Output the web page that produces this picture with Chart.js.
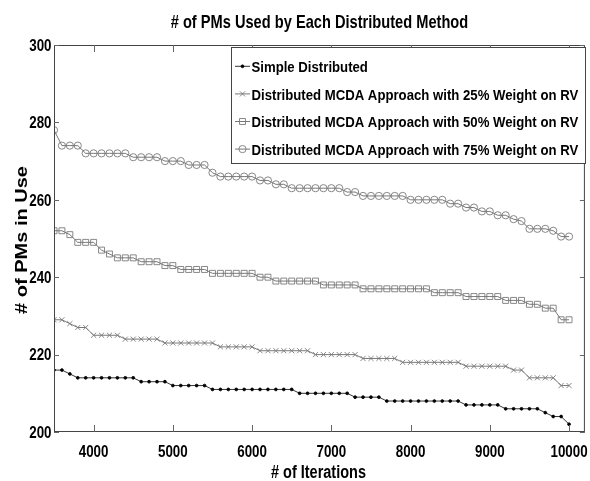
<!DOCTYPE html>
<html>
<head>
<meta charset="utf-8">
<script src="https://cdn.jsdelivr.net/npm/chart.js@4.4.1/dist/chart.umd.min.js"></script>
<style>
  html, body { margin: 0; padding: 0; background: #fff; }
  #wrap { width: 590px; height: 481px; }
</style>
</head>
<body>
<div id="wrap"><canvas id="chart" width="590" height="481"></canvas></div>
<script>
const chartTitle = '# of PMs Used by Each Distributed Method';
const xTitle = '# of Iterations';
const yTitle = '# of PMs in Use';

const xTicks = [4000, 5000, 6000, 7000, 8000, 9000, 10000];
const yTicks = [200, 220, 240, 260, 280, 300];

const iterations = [
  3500, 3600, 3700, 3800, 3900, 4000, 4100, 4200, 4300, 4400,
  4500, 4600, 4700, 4800, 4900, 5000, 5100, 5200, 5300, 5400,
  5500, 5600, 5700, 5800, 5900, 6000, 6100, 6200, 6300, 6400,
  6500, 6600, 6700, 6800, 6900, 7000, 7100, 7200, 7300, 7400,
  7500, 7600, 7700, 7800, 7900, 8000, 8100, 8200, 8300, 8400,
  8500, 8600, 8700, 8800, 8900, 9000, 9100, 9200, 9300, 9400,
  9500, 9600, 9700, 9800, 9900, 10000,
];

const seriesLabels = [
  'Simple Distributed',
  'Distributed MCDA Approach with 25% Weight on RV',
  'Distributed MCDA Approach with 50% Weight on RV',
  'Distributed MCDA Approach with 75% Weight on RV',
];

const simpleDistributed = [
  216, 216, 215, 214, 214, 214, 214, 214, 214, 214,
  214, 213, 213, 213, 213, 212, 212, 212, 212, 212,
  211, 211, 211, 211, 211, 211, 211, 211, 211, 211,
  211, 210, 210, 210, 210, 210, 210, 210, 209, 209,
  209, 209, 208, 208, 208, 208, 208, 208, 208, 208,
  208, 208, 207, 207, 207, 207, 207, 206, 206, 206,
  206, 206, 205, 204, 204, 202,
];

const weight25 = [
  229, 229, 228, 227, 227, 225, 225, 225, 225, 224,
  224, 224, 224, 224, 223, 223, 223, 223, 223, 223,
  223, 222, 222, 222, 222, 222, 221, 221, 221, 221,
  221, 221, 221, 220, 220, 220, 220, 220, 220, 219,
  219, 219, 219, 219, 218, 218, 218, 218, 218, 218,
  218, 218, 217, 217, 217, 217, 217, 217, 216, 216,
  214, 214, 214, 214, 212, 212,
];

const weight50 = [
  252, 252, 251, 249, 249, 249, 247, 246, 245, 245,
  245, 244, 244, 244, 243, 243, 242, 242, 242, 242,
  241, 241, 241, 241, 241, 241, 240, 240, 239, 239,
  239, 239, 239, 239, 238, 238, 238, 238, 238, 237,
  237, 237, 237, 237, 237, 237, 237, 237, 236, 236,
  236, 236, 235, 235, 235, 235, 235, 234, 234, 234,
  233, 233, 232, 232, 229, 229,
];

const weight75 = [
  278, 274, 274, 274, 272, 272, 272, 272, 272, 272,
  271, 271, 271, 271, 270, 270, 270, 269, 269, 269,
  267, 266, 266, 266, 266, 266, 265, 265, 264, 264,
  263, 263, 263, 263, 263, 263, 263, 262, 262, 261,
  261, 261, 261, 261, 261, 260, 260, 260, 260, 260,
  259, 259, 258, 258, 257, 257, 256, 256, 255, 254.5,
  252.5, 252.5, 252.5, 252, 250.5, 250.5,
];

// the reference text is a squeezed Helvetica bold, so text is drawn
// with Liberation Sans and a horizontal scale
const FONT = '"Liberation Sans", Arial, sans-serif';

function toPoints(values) {
  return iterations.map((it, i) => ({ x: it, y: values[i] }));
}

function squeezedText(ctx, text, x, y, size, sx, align) {
  ctx.save();
  ctx.translate(x, y);
  ctx.scale(sx, 1);
  ctx.font = `bold ${size}px ${FONT}`;
  ctx.textAlign = align;
  ctx.textBaseline = 'alphabetic';
  ctx.fillStyle = '#000';
  ctx.fillText(text, 0, 0);
  ctx.restore();
}

function drawMarker(ctx, ds, x, y) {
  ctx.save();
  ctx.fillStyle = ds.pointBackgroundColor;
  ctx.strokeStyle = ds.pointBorderColor;
  ctx.lineWidth = ds.pointBorderWidth;
  Chart.helpers.drawPoint(ctx, {
    pointStyle: ds.pointStyle,
    radius: ds.pointRadius,
    rotation: 0,
    borderWidth: ds.pointBorderWidth,
  }, x, y);
  ctx.restore();
}

// MATLAB-like frame: box, inward ticks, labels, title and boxed legend
const matlabLook = {
  id: 'matlabLook',
  afterDraw(chart) {
    const { ctx, chartArea: a, scales: { x, y } } = chart;
    ctx.save();

    ctx.strokeStyle = '#444';
    ctx.lineWidth = 1;
    ctx.strokeRect(a.left + 0.5, a.top + 0.5, a.right - a.left - 1, a.bottom - a.top - 1);

    ctx.strokeStyle = '#666';
    ctx.beginPath();
    xTicks.forEach((v) => {
      const px = Math.round(x.getPixelForValue(v)) + 0.5;
      ctx.moveTo(px, a.bottom);
      ctx.lineTo(px, a.bottom - 7);
      ctx.moveTo(px, a.top);
      ctx.lineTo(px, a.top + 7);
    });
    yTicks.forEach((v) => {
      const py = Math.round(y.getPixelForValue(v)) + 0.5;
      ctx.moveTo(a.left, py);
      ctx.lineTo(a.left + 5, py);
      ctx.moveTo(a.right, py);
      ctx.lineTo(a.right - 5, py);
    });
    ctx.stroke();

    // tick labels
    xTicks.forEach((v) => {
      squeezedText(ctx, String(v), x.getPixelForValue(v), a.bottom + 25, 16.3, 0.82, 'center');
    });
    yTicks.forEach((v) => {
      squeezedText(ctx, String(v), a.left - 2.5, y.getPixelForValue(v) + 5.8, 16.3, 0.82, 'right');
    });

    // titles
    squeezedText(ctx, chartTitle, (a.left + a.right) / 2, 28, 19, 0.77, 'center');
    squeezedText(ctx, xTitle, (a.left + a.right) / 2 - 1, 478, 18, 0.805, 'center');

    ctx.save();
    ctx.translate(22, 240);
    ctx.rotate(-Math.PI / 2);
    ctx.scale(1, 0.82);
    ctx.font = `bold 20px ${FONT}`;
    ctx.textAlign = 'center';
    ctx.textBaseline = 'middle';
    ctx.fillStyle = '#000';
    ctx.fillText(yTitle, 0, 0);
    ctx.restore();

    // legend
    const box = { left: 231.5, top: 47.5, right: 585.5, bottom: 163.5 };
    ctx.fillStyle = '#fff';
    ctx.fillRect(box.left, box.top, box.right - box.left, box.bottom - box.top);
    ctx.strokeStyle = '#444';
    ctx.lineWidth = 1;
    ctx.strokeRect(box.left, box.top, box.right - box.left, box.bottom - box.top);

    chart.data.datasets.forEach((ds, i) => {
      const ry = 66.3 + i * 27.6;
      ctx.strokeStyle = ds.borderColor;
      ctx.lineWidth = ds.borderWidth;
      ctx.beginPath();
      ctx.moveTo(235, ry);
      ctx.lineTo(250, ry);
      ctx.stroke();
      drawMarker(ctx, ds, 242.5, ry);
      squeezedText(ctx, ds.label, 251.5, ry + 5.6, 15.5, 0.85, 'left');
    });

    ctx.restore();
  },
};

function makeDataset(label, values, style) {
  return Object.assign({
    label: label,
    data: toPoints(values),
    borderWidth: 0.8,
    pointBorderWidth: 0.9,
    pointHoverRadius: 0,
    tension: 0,
    fill: false,
  }, style);
}

new Chart(document.getElementById('chart'), {
  type: 'line',
  data: {
    datasets: [
      makeDataset(seriesLabels[0], simpleDistributed, {
        borderColor: '#000',
        pointStyle: 'circle',
        pointRadius: 1.4,
        pointBackgroundColor: '#000',
        pointBorderColor: '#000',
      }),
      makeDataset(seriesLabels[1], weight25, {
        borderColor: '#555',
        pointStyle: 'crossRot',
        pointRadius: 3.6,
        pointBackgroundColor: 'rgba(0,0,0,0)',
        pointBorderColor: '#7a7a7a',
      }),
      makeDataset(seriesLabels[2], weight50, {
        borderColor: '#555',
        pointStyle: 'rect',
        pointRadius: 4.2,
        pointBackgroundColor: 'rgba(0,0,0,0)',
        pointBorderColor: '#7a7a7a',
      }),
      makeDataset(seriesLabels[3], weight75, {
        borderColor: '#555',
        pointStyle: 'circle',
        pointRadius: 3.6,
        pointBackgroundColor: 'rgba(0,0,0,0)',
        pointBorderColor: '#7a7a7a',
      }),
    ],
  },
  options: {
    responsive: false,
    animation: false,
    devicePixelRatio: 1,
    layout: {
      padding: { top: 45, right: 4, left: 0, bottom: 0 },
    },
    scales: {
      x: {
        type: 'linear',
        min: 3500,
        max: 10200,
        afterFit: (scale) => {
          scale.height = 49;
        },
        grid: { display: false },
        border: { display: false },
        ticks: { display: false },
      },
      y: {
        min: 200,
        max: 300,
        afterFit: (scale) => {
          scale.width = 54;
        },
        grid: { display: false },
        border: { display: false },
        ticks: { display: false },
      },
    },
    plugins: {
      legend: { display: false },
      tooltip: { enabled: false },
    },
  },
  plugins: [matlabLook],
});
</script>
</body>
</html>
